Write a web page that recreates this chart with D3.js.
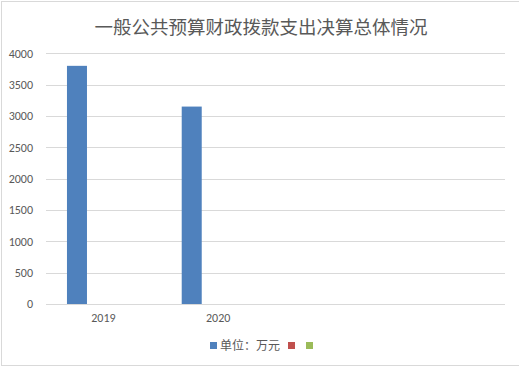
<!DOCTYPE html>
<html>
<head>
<meta charset="utf-8">
<script src="https://cdn.jsdelivr.net/npm/d3@7"></script>
<style>
html,body{margin:0;padding:0;background:#fff;}
svg{display:block;font-family:"Microsoft YaHei","Noto Sans CJK SC","DejaVu Sans",sans-serif;}
</style>
</head>
<body>
<svg id="chart" width="519" height="367"></svg>
<script>
const title = "一般公共预算财政拨款支出决算总体情况";
const categories = ["2019", "2020", "", " "];
const seriesNames = ["单位：万元", "", " "];
const seriesColors = ["#4F81BD", "#C0504D", "#9BBB59"];
const series1 = [3800, 3150, null, null];
const series2 = [null, null, null, null];
const series3 = [null, null, null, null];
const yTicks = [0, 500, 1000, 1500, 2000, 2500, 3000, 3500, 4000];

const svg = d3.select("#chart");
const W = 519, H = 367;
const m = {left: 46, right: 14, top: 53.3, bottom: 63};
const plotW = W - m.left - m.right;
const numFont = "Calibri, Carlito, 'Liberation Sans', 'DejaVu Sans', sans-serif";

// border
svg.append("rect").attr("x", 1.5).attr("y", 1.5).attr("width", 530).attr("height", 364)
  .attr("fill", "#fff").attr("stroke", "#d9d9d9").attr("stroke-width", 1);

const y = d3.scaleLinear().domain([0, 4000]).range([304, 53.3]);
const x0 = d3.scaleBand().domain(categories).range([m.left, m.left + plotW]).padding(0);
const x1 = d3.scaleBand().domain(d3.range(3)).range([0, x0.bandwidth()])
  .paddingInner(0.242).paddingOuter(0.794);

// gridlines
svg.append("g").selectAll("line").data(yTicks).join("line")
  .attr("x1", m.left).attr("x2", m.left + plotW)
  .attr("y1", d => Math.round(y(d)) + 0.5).attr("y2", d => Math.round(y(d)) + 0.5)
  .attr("stroke", "#d9d9d9").attr("stroke-width", 1);

// y axis labels
const yAxis = d3.axisLeft(y).tickValues(yTicks).tickFormat(d3.format("d")).tickSize(0).tickPadding(0);
const ya = svg.append("g").attr("transform", "translate(33,0)").call(yAxis);
ya.select(".domain").remove();
ya.selectAll("text").attr("fill", "#595959").attr("font-size", "12px")
  .attr("font-family", numFont);

// x axis labels
const xAxis = d3.axisBottom(x0).tickSize(0).tickPadding(0);
const xa = svg.append("g").attr("transform", "translate(0,313)").call(xAxis);
xa.select(".domain").remove();
xa.selectAll("text").attr("fill", "#595959").attr("font-size", "12px")
  .attr("font-family", numFont);

// bars
const allSeries = [series1, series2, series3];
allSeries.forEach((vals, si) => {
  svg.append("g").selectAll("rect")
    .data(vals.map((v, i) => ({v, c: categories[i]})).filter(d => d.v != null))
    .join("rect")
    .attr("x", d => x0(d.c) + x1(si))
    .attr("width", x1.bandwidth())
    .attr("y", d => y(d.v))
    .attr("height", d => y(0) - y(d.v))
    .attr("fill", seriesColors[si]);
});

// axis line at zero
svg.append("line").attr("x1", m.left).attr("x2", m.left + plotW)
  .attr("y1", Math.round(y(0)) + 0.5).attr("y2", Math.round(y(0)) + 0.5)
  .attr("stroke", "#d9d9d9");

// title
svg.append("text").attr("x", 261).attr("y", 34).attr("text-anchor", "middle")
  .attr("font-size", "18.5px").attr("fill", "#595959").text(title);

// legend
const legendX = [210, 288, 306];
const lg = svg.append("g");
seriesNames.forEach((name, i) => {
  lg.append("rect").attr("x", legendX[i]).attr("y", 342).attr("width", 7).attr("height", 7)
    .attr("fill", seriesColors[i]);
  if (name.trim()) {
    lg.append("text").attr("x", legendX[i] + 10).attr("y", 350)
      .attr("font-size", "12px").attr("fill", "#595959").text(name);
  }
});
</script>
</body>
</html>
